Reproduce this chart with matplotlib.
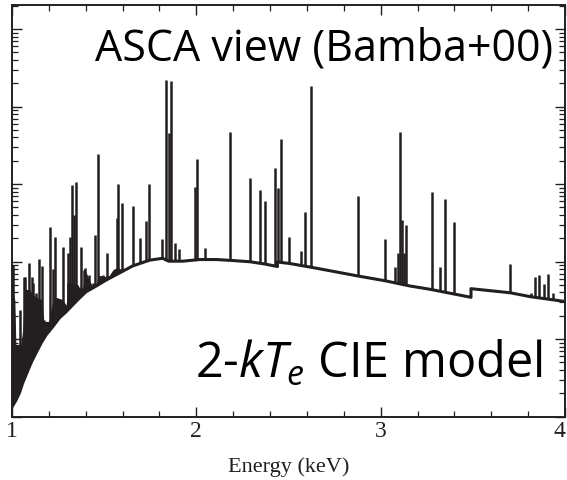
import matplotlib
matplotlib.use("Agg")
import matplotlib.pyplot as plt
from matplotlib.ticker import LogLocator, MultipleLocator, NullFormatter, FixedLocator

# Model continuum (keV, counts); steps are the S XV (2.44 keV) and S XVI (3.49 keV) recombination edges
cont_energy = [1.000, 1.022, 1.040, 1.058, 1.076, 1.103, 1.130, 1.158, 1.185, 1.221,
               1.257, 1.294, 1.329, 1.366, 1.402, 1.457, 1.511, 1.583, 1.654, 1.746,
               1.817, 1.850, 1.926, 2.018, 2.110, 2.197, 2.290, 2.371, 2.440, 2.440,
               2.507, 2.616, 2.725, 2.877, 3.023, 3.159, 3.268, 3.490, 3.490, 3.703,
               3.811, 4.000]
cont_flux = [1.33, 1.63, 2.01, 2.70, 3.43, 4.90, 6.59, 8.87, 11.3, 14.4,
             18.7, 22.5, 27.5, 33.8, 40.7, 48.3, 57.7, 71.1, 87.5, 104,
             110, 101, 101, 106, 106, 103, 99.3, 92.9, 86.1, 98.6,
             94.2, 84.9, 76.0, 65.0, 56.5, 48.3, 43.8, 34.5, 44.6, 39.5,
             35.2, 30.5]

# Upper envelope of the unresolved Fe-L / Ne / Mg line blend
blend_energy = [1.000, 1.0125, 1.0179, 1.0505, 1.0614, 1.0723, 1.0940, 1.1103, 1.1321, 1.1592,
                1.1701, 1.2027, 1.2190, 1.2408, 1.2734, 1.2951, 1.3114, 1.3549, 1.3658, 1.3875,
                1.3984, 1.4147, 1.4364, 1.4582, 1.4745, 1.5071, 1.5288, 1.5505, 1.5723, 1.5940,
                1.630]
blend_flux = [42.9, 31.8, 8.38, 8.38, 13.1, 42.9, 42.9, 37.0, 33.8, 31.8,
              16.6, 16.6, 27.5, 33.8, 31.8, 25.9, 52.8, 49.8, 42.9, 45.5,
              73.3, 57.7, 46.9, 49.8, 65.0, 63.1, 65.0, 77.6, 82.4, 77.6,
              81.0]

# Emission lines: centroid (keV) and peak (counts)
line_energy = [1.005, 1.0435, 1.0668, 1.0723, 1.0902, 1.1087, 1.1120, 1.1304, 1.1446, 1.1609,
               1.1755, 1.1902, 1.2082, 1.2207, 1.2299, 1.2353, 1.2478, 1.2663, 1.2750, 1.3022,
               1.3043, 1.3152, 1.3277, 1.3386, 1.3495, 1.3658, 1.3766, 1.3929, 1.3984, 1.4054,
               1.4163, 1.4380, 1.4527, 1.4674, 1.4924, 1.5141, 1.5196, 1.5707, 1.5739, 1.5957,
               1.6538, 1.6918, 1.7245, 1.7424, 1.8152, 1.8370, 1.8495, 1.8603, 1.8821, 1.9038,
               1.9908, 2.0033, 2.0467, 2.1810, 2.2935, 2.3440, 2.3728, 2.4255, 2.4457, 2.4598,
               2.5033, 2.5652, 2.5902, 2.6212, 2.8783, 3.0234, 3.0777, 3.0924, 3.1049, 3.1141,
               3.1266, 3.1391, 3.2804, 3.3223, 3.3511, 3.3984, 3.7027, 3.8168, 3.8370, 3.8603,
               3.8837, 3.9054, 3.9348]
line_peak = [90.0, 23.7, 63.1, 63.5, 95.7, 63.5, 52.8, 39.2, 108, 87.5,
             17.6, 14.3, 281, 80.0, 27.5, 209, 23.7, 31.8, 154, 52.8,
             129, 209, 971, 398, 1070, 46.9, 154, 77.6, 82.4, 61.2,
             67.0, 52.8, 220, 2415, 67.0, 129, 63.1, 364, 1000, 569,
             520, 204, 333, 991, 195, 21980, 4508, 21330, 175, 144,
             923, 2104, 148, 4732, 1205, 837, 610, 1596, 887, 3776,
             209, 138, 432, 18410, 700, 195, 84.1, 128, 4645, 343,
             129, 296, 796, 85.7, 635, 327, 92.9, 39.5, 63.7, 67.0,
             51.3, 68.4, 38.9]

x_ticks = [1, 2, 3, 4]
x_tick_labels = ["1", "2", "3", "4"]

ink = "#231f20"
y_bottom, y_top = 1.0, 10 ** 5.31

fig = plt.figure(figsize=(5.67, 4.8), dpi=100)
ax = fig.add_axes([12 / 567, 1 - 416.5 / 480, 553 / 567, 411.5 / 480])

# lines and blend are drawn from the floor; the area below the continuum is blanked afterwards
ax.vlines(line_energy, y_bottom, line_peak, color=ink, lw=1.8, zorder=1)
ax.fill_between(blend_energy, y_bottom, blend_flux, facecolor=ink, edgecolor=ink, lw=0.8, zorder=1)
ax.fill_between(cont_energy, y_bottom * 0.5, cont_flux, facecolor="white", lw=0, zorder=1.3)
ax.plot(cont_energy, cont_flux, color=ink, lw=2.2, zorder=2)

ax.set_xlim(1, 4)
ax.set_yscale("log")
ax.set_ylim(y_bottom, y_top)

ax.xaxis.set_major_locator(FixedLocator(x_ticks))
ax.set_xticklabels(x_tick_labels)
ax.xaxis.set_minor_locator(MultipleLocator(0.2))
ax.yaxis.set_major_locator(LogLocator(base=10, numticks=20))
ax.yaxis.set_minor_locator(LogLocator(base=10, subs=range(2, 10), numticks=20))
ax.yaxis.set_minor_formatter(NullFormatter())
ax.yaxis.set_major_formatter(NullFormatter())

ax.set_axisbelow(False)
ax.tick_params(which="both", direction="in", top=True, right=True, colors=ink)
ax.tick_params(which="major", length=7, width=1.0)
ax.tick_params(which="minor", length=4, width=0.9)
ax.tick_params(axis="x", pad=3, labelsize=17, labelfontfamily="Liberation Serif")
ax.tick_params(axis="y", labelleft=False)
ax.get_xticklabels()[-1].set_horizontalalignment("right")
for sp in ax.spines.values():
    sp.set_linewidth(1.4)
    sp.set_color(ink)

ax.set_xlabel("Energy (keV)", fontsize=16, family="Liberation Serif", color=ink, labelpad=11)

plt.rcParams["mathtext.fontset"] = "custom"
plt.rcParams["mathtext.rm"] = "Open Sans"
plt.rcParams["mathtext.it"] = "Open Sans:italic"

ax.text(0.978, 0.866, "ASCA view (Bamba+00)", transform=ax.transAxes, ha="right",
        va="baseline", fontsize=31, family="Open Sans", color="black")
ax.text(0.960, 0.094, r"2-$kT_e$ CIE model", transform=ax.transAxes, ha="right",
        va="baseline", fontsize=35, family="Open Sans", color="black")

fig.savefig("out.png", dpi=100)
